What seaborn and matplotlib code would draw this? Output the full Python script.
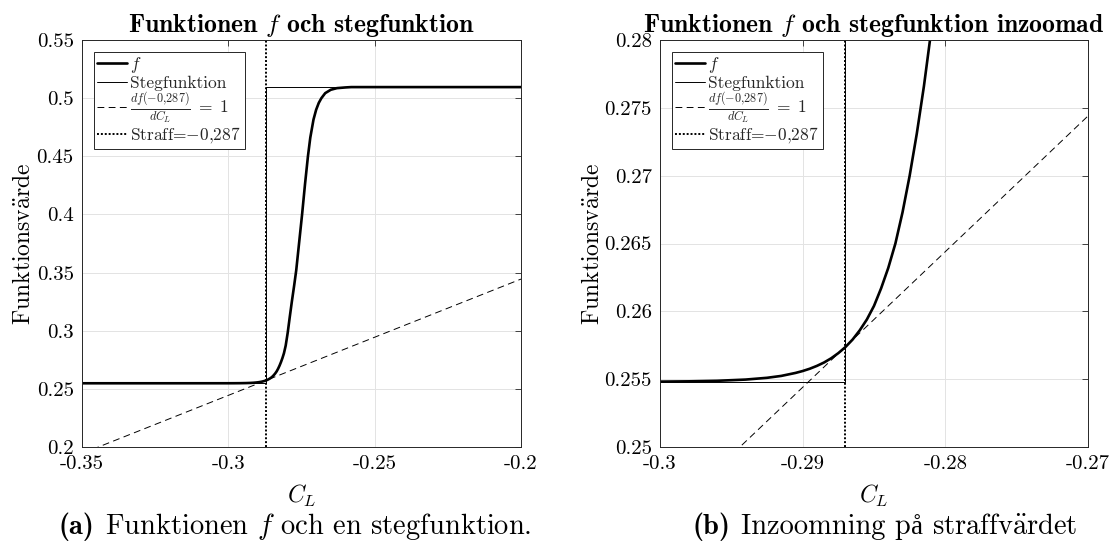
import matplotlib
matplotlib.use("Agg")
import matplotlib.pyplot as plt
import numpy as np
import pandas as pd
import seaborn as sns

# ---------------- data ----------------
cl_f = [-0.3500, -0.3200, -0.3000, -0.2980, -0.2960, -0.2940, -0.2925, -0.2915, -0.2905, -0.2900,
        -0.2895, -0.2890, -0.2885, -0.2880, -0.2875, -0.2870, -0.2865, -0.2860, -0.2855, -0.2850,
        -0.2845, -0.2840, -0.2835, -0.2830, -0.2825, -0.2820, -0.2815, -0.2810, -0.2804, -0.2797,
        -0.2790, -0.2783, -0.2775, -0.2768, -0.2758, -0.2748, -0.2738, -0.2728, -0.2720, -0.2709,
        -0.2700, -0.2691, -0.2682, -0.2669, -0.2650, -0.2629, -0.2600, -0.2580, -0.2500, -0.2000]
f_vals = [0.25480, 0.25480, 0.25482, 0.25484, 0.25488, 0.25497, 0.25510, 0.25524, 0.25546, 0.25560,
          0.25577, 0.25598, 0.25623, 0.25654, 0.25692, 0.25737, 0.25792, 0.25860, 0.25940, 0.26040,
          0.26170, 0.26320, 0.26500, 0.26730, 0.27000, 0.27310, 0.27660, 0.28060, 0.28720, 0.29850,
          0.31200, 0.32500, 0.33900, 0.35200, 0.37600, 0.40000, 0.42600, 0.45000, 0.46600, 0.48160,
          0.49000, 0.49590, 0.50000, 0.50430, 0.50720, 0.50860, 0.50920, 0.50950, 0.50950, 0.50950]

step_cl = [-0.350, -0.287, -0.287, -0.200]
step_vals = [0.2548, 0.2548, 0.5095, 0.5095]

tangent_cl = [-0.350, -0.200]
tangent_vals = [0.1944, 0.3444]

straff = -0.287

left_xticks = [-0.35, -0.30, -0.25, -0.20]
left_xticklabels = ["-0.35", "-0.3", "-0.25", "-0.2"]
left_yticks = [0.20, 0.25, 0.30, 0.35, 0.40, 0.45, 0.50, 0.55]
left_yticklabels = ["0.2", "0.25", "0.3", "0.35", "0.4", "0.45", "0.5", "0.55"]

right_xticks = [-0.30, -0.29, -0.28, -0.27]
right_xticklabels = ["-0.3", "-0.29", "-0.28", "-0.27"]
right_yticks = [0.250, 0.255, 0.260, 0.265, 0.270, 0.275, 0.280]
right_yticklabels = ["0.25", "0.255", "0.26", "0.265", "0.27", "0.275", "0.28"]

titles = [r"Funktionen $f$ och stegfunktion",
          r"Funktionen $f$ och stegfunktion inzoomad"]
# caption pieces: (text, font family or None, gap before in em)
caption_pieces = [
    [("(a)", "cmb10", 0.0), (r"Funktionen $f$ och en stegfunktion.", None, 0.36)],
    [("(b)", "cmb10", 0.0), ("Inzoomning p", None, 0.36), ("å", "Liberation Serif", 0.0),
     (r"straffv$\ddot{\mathrm{a}}$rdet", None, 0.33)],
]
ylabel = r"Funktionsv$\ddot{\mathrm{a}}$rde"
xlabel = r"$C_L$"
legend_labels = [r"$f$", "Stegfunktion", r"$\frac{df(-0{,}287)}{dC_L}\;=\;1$", r"Straff=$-0{,}287$"]

# ---------------- style ----------------
sns.set_theme(style="white")
plt.rcParams["font.family"] = ["cmr10", "Liberation Serif"]
plt.rcParams["mathtext.fontset"] = "cm"
plt.rcParams["axes.unicode_minus"] = False
plt.rcParams["axes.formatter.use_mathtext"] = True

W, H = 1114, 552
fig = plt.figure(figsize=(W / 100, H / 100), dpi=100)
fig.patch.set_facecolor("white")

dark = "#262626"
gridc = "#e3e3e3"

f_df = pd.DataFrame({"CL": cl_f, "f": f_vals})
step_df = pd.DataFrame({"CL": step_cl, "v": step_vals})
tan_df = pd.DataFrame({"CL": tangent_cl, "v": tangent_vals})

panels = [
    dict(rect=[82 / W, (H - 447) / H, 439 / W, 407 / H],
         xlim=(-0.35, -0.20), ylim=(0.20, 0.55),
         xt=left_xticks, xtl=left_xticklabels, yt=left_yticks, ytl=left_yticklabels,
         title=titles[0], cap=caption_pieces[0], capx=295, ylx=-0.106),
    dict(rect=[660 / W, (H - 447) / H, 428 / W, 407 / H],
         xlim=(-0.30, -0.27), ylim=(0.25, 0.28),
         xt=right_xticks, xtl=right_xticklabels, yt=right_yticks, ytl=right_yticklabels,
         title=titles[1], cap=caption_pieces[1], capx=885, ylx=-0.131),
]

CAP_SIZE = 20.5
cap_y = (H - 534) / H
caption_items = []
for p in panels:
    ax = fig.add_axes(p["rect"])
    ax.set_facecolor("white")
    sns.lineplot(data=f_df, x="CL", y="f", ax=ax, color="black", lw=1.9,
                 estimator=None, sort=False, label=legend_labels[0])
    sns.lineplot(data=step_df, x="CL", y="v", ax=ax, color="black", lw=0.7,
                 estimator=None, sort=False, label=legend_labels[1])
    sns.lineplot(data=tan_df, x="CL", y="v", ax=ax, color="black", lw=0.7,
                 estimator=None, sort=False, label=legend_labels[2],
                 linestyle=(0, (7, 4.5)))
    ax.axvline(straff, color="black", lw=1.4, linestyle=(0, (1, 1)),
               label=legend_labels[3])

    ax.set_xlim(*p["xlim"])
    ax.set_ylim(*p["ylim"])
    ax.set_xticks(p["xt"])
    ax.set_xticklabels(p["xtl"])
    ax.set_yticks(p["yt"])
    ax.set_yticklabels(p["ytl"])
    ax.grid(True, color=gridc, lw=0.7)
    ax.set_axisbelow(True)
    ax.tick_params(direction="in", length=4, width=0.6, colors=dark,
                   labelsize=15, top=True, right=True, pad=6, labelcolor="black")
    for s in ax.spines.values():
        s.set_visible(True)
        s.set_color(dark)
        s.set_linewidth(0.7)

    ax.set_xlabel(xlabel, fontsize=17, color="black")
    ax.set_ylabel(ylabel, fontsize=17, color="black")
    ax.xaxis.set_label_coords(0.5, -0.088)
    ax.yaxis.set_label_coords(p["ylx"], 0.5)
    ax.set_title(p["title"], family="cmb10", fontsize=18.5, pad=6, color="black")

    leg = ax.legend(loc="upper left", bbox_to_anchor=(12 / p["rect"][2] / W, 1 - 12 / 407),
                    borderaxespad=0, fontsize=12.5, frameon=True, fancybox=False,
                    edgecolor=dark, framealpha=1, handlelength=1.7, handletextpad=0.2,
                    labelspacing=0.0, borderpad=0.2)
    leg.get_frame().set_linewidth(0.7)

    items = []
    for txt, fam, gap_em in p["cap"]:
        kw = dict(ha="left", va="baseline", fontsize=CAP_SIZE, color="black")
        if fam is not None:
            kw["family"] = fam
        if fam == "Liberation Serif":
            kw["fontsize"] = CAP_SIZE * 0.95
        items.append((fig.text(0, cap_y, txt, **kw), gap_em * CAP_SIZE * 100 / 72))
    caption_items.append((p["capx"], items))

fig.canvas.draw()
r = fig.canvas.get_renderer()
for cx, items in caption_items:
    widths = [t.get_window_extent(r).width for t, _ in items]
    total = sum(widths) + sum(g for _, g in items)
    x = cx - total / 2
    for (t, g), w in zip(items, widths):
        x += g
        t.set_x(x / W)
        x += w

fig.savefig("out.png", dpi=100, facecolor="white")
